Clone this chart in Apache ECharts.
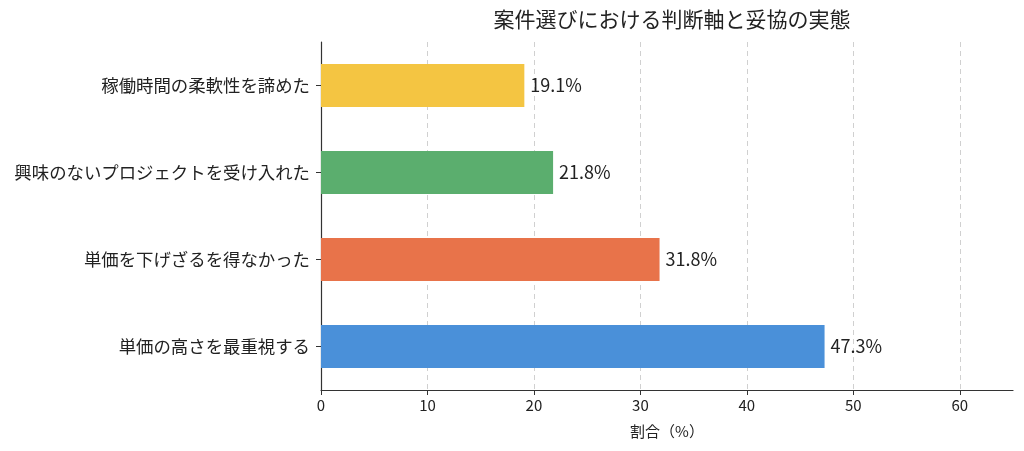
<!DOCTYPE html>
<html lang="ja">
<head>
  <meta charset="UTF-8">
  <title>案件選びにおける判断軸と妥協の実態</title>
  <script src="https://cdn.jsdelivr.net/npm/echarts@6/dist/echarts.min.js"></script>
</head>
<style>
  body { margin: 0; background: #fff; }
  #main { width: 1024px; height: 451px; }
</style>
<body>
  <div id="main"></div>
  <script>
    // 下から順に
    var categories = ['単価の高さを最重視する', '単価を下げざるを得なかった', '興味のないプロジェクトを受け入れた', '稼働時間の柔軟性を諦めた'];
    var values = [47.3, 31.8, 21.8, 19.1];
    var colors = ['#4A90D9', '#E8734A', '#5BAE6E', '#F4C542'];
    var xTicks = [0, 10, 20, 30, 40, 50, 60];

    var font = '"Noto Sans CJK JP", "Noto Sans", sans-serif';
    var myChart = echarts.init(document.getElementById('main'));

    var option = {
      animation: false,
      textStyle: { fontFamily: font },
      title: {
        text: '案件選びにおける判断軸と妥協の実態',
        left: 667,
        textAlign: 'center',
        top: 4,
        textStyle: { fontFamily: font, fontSize: 21, fontWeight: 'normal', color: '#222' }
      },
      grid: { left: 321, right: 11, top: 42, bottom: 61 },
      xAxis: {
        type: 'value',
        min: 0,
        max: 65,
        interval: 10,
        name: '割合（%）',
        nameLocation: 'middle',
        nameGap: 34,
        nameTextStyle: { fontFamily: font, fontSize: 15, color: '#222' },
        axisLine: { show: true, lineStyle: { color: '#333', width: 1.2 } },
        axisTick: { show: true, length: 5, customValues: xTicks, lineStyle: { color: '#333' } },
        axisLabel: { fontFamily: font, fontSize: 15, color: '#222', margin: 8, customValues: xTicks },
        splitLine: { show: true, lineStyle: { color: '#d0d0d0', type: [5, 4], width: 1 } }
      },
      yAxis: {
        type: 'category',
        data: categories,
        axisLine: { show: true, lineStyle: { color: '#333', width: 1.2 } },
        axisTick: { show: true, alignWithLabel: true, length: 5, lineStyle: { color: '#333' } },
        axisLabel: { fontFamily: font, fontSize: 17.4, color: '#222', margin: 11 }
      },
      series: [{
        type: 'bar',
        barWidth: 43,
        data: values.map(function (v, i) {
          return { value: v, itemStyle: { color: colors[i] } };
        }),
        label: {
          show: true,
          position: 'right',
          distance: 6,
          fontFamily: font,
          fontSize: 18,
          color: '#222',
          formatter: function (p) { return p.value.toFixed(1) + '%'; }
        }
      }]
    };

    myChart.setOption(option);
  </script>
</body>
</html>
